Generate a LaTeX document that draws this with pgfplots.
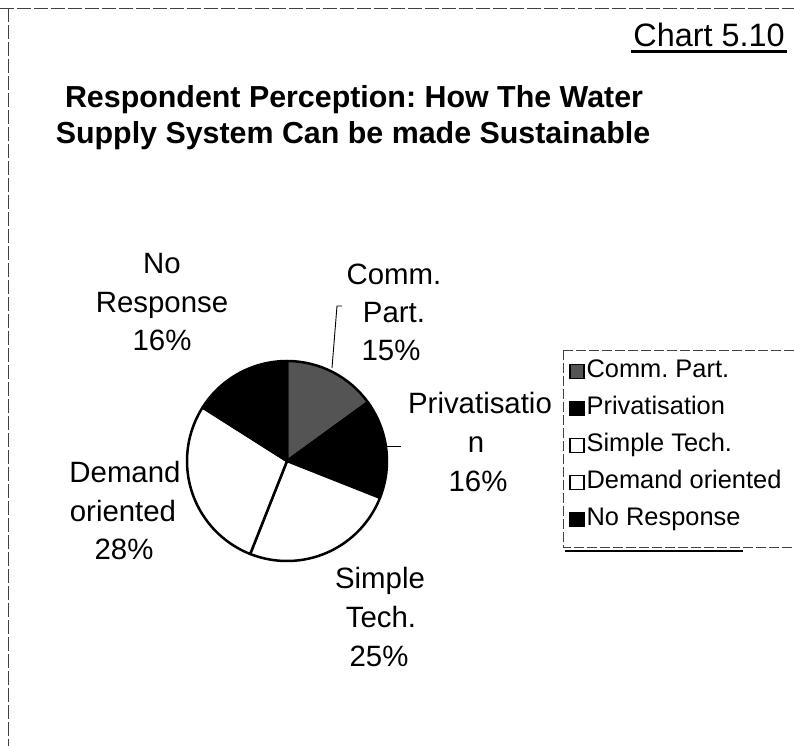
\documentclass[border=0pt]{standalone}
\usepackage{pgfplots}
\pgfplotsset{compat=1.18}
\usepackage{pgfplotstable}
\usepackage{fontspec}
\setmainfont{Liberation Sans}
\definecolor{commgray}{gray}{0.33}

\pgfplotstableread{
idx value
0 15
1 16
2 25
3 28
4 16
}\piedata

\newcommand\lab{\fontsize{29.5}{32}\selectfont}
\newcommand\ttl{\fontsize{30.5}{33}\selectfont\bfseries}
\newcommand\leg{\fontsize{25.5}{28}\selectfont}

\begin{document}%
\frenchspacing%
\begin{tikzpicture}
\pgfplotstablegetelem{0}{value}\of\piedata \let\vA\pgfplotsretval
\pgfplotstablegetelem{1}{value}\of\piedata \let\vB\pgfplotsretval
\pgfplotstablegetelem{2}{value}\of\piedata \let\vC\pgfplotsretval
\pgfplotstablegetelem{3}{value}\of\piedata \let\vD\pgfplotsretval
\pgfplotstablegetelem{4}{value}\of\piedata \let\vE\pgfplotsretval
\pgfmathsetmacro\aA{90}
\pgfmathsetmacro\aB{\aA-3.6*\vA}
\pgfmathsetmacro\aC{\aB-3.6*\vB}
\pgfmathsetmacro\aD{\aC-3.6*\vC}
\pgfmathsetmacro\aE{\aD-3.6*\vD}
\pgfmathsetmacro\aF{\aE-3.6*\vE}
\begin{scope}[x=1bp,y=-1bp]
\path[use as bounding box] (0,0) rectangle (794,746);
% frame
\draw[black!75, line width=0.9bp, dash pattern=on 14bp off 3bp] (0,8) -- (794,8);
\draw[black!75, line width=0.9bp, dash pattern=on 14bp off 3bp] (8,8) -- (8,746);
% chart number
\node[anchor=base, inner sep=0] at (709,46.7) {\fontsize{32.5}{34}\selectfont Chart 5.10};
\draw[line width=2.4bp] (631,51.5) -- (787,51.5);
% title
\node[anchor=base, inner sep=0] at (354,107) {\ttl Respondent Perception: How The Water};
\node[anchor=base, inner sep=0] at (353,143.5) {\ttl Supply System Can be made Sustainable};
% data labels
\node[anchor=base, inner sep=0] at (162,273) {\lab No};
\node[anchor=base, inner sep=0] at (162,312) {\lab Response};
\node[anchor=base, inner sep=0] at (162,350) {\lab 16\%};
\node[anchor=base, inner sep=0] at (394,284) {\lab Comm.};
\node[anchor=base, inner sep=0] at (394,322) {\lab Part.};
\node[anchor=base, inner sep=0] at (391,360) {\lab 15\%};
\node[anchor=base, inner sep=0] at (480,413) {\lab Privatisatio};
\node[anchor=base, inner sep=0] at (476,452) {\lab n};
\node[anchor=base, inner sep=0] at (478,491) {\lab 16\%};
\node[anchor=base, inner sep=0] at (125,482) {\lab Demand};
\node[anchor=base, inner sep=0] at (123,521) {\lab oriented};
\node[anchor=base, inner sep=0] at (124,559) {\lab 28\%};
\node[anchor=base, inner sep=0] at (380,588) {\lab Simple};
\node[anchor=base, inner sep=0] at (381,627) {\lab Tech.};
\node[anchor=base, inner sep=0] at (379,666) {\lab 25\%};
% leader lines
\draw[line width=0.9bp] (342,306) -- (337,306) -- (332,368);
\draw[line width=0.9bp] (384,446) -- (401,446);
% legend frame
\draw[black!75, line width=0.8bp, dash pattern=on 10bp off 3bp] (563,350) rectangle (800,547);
\draw[line width=2.6bp] (565,551) -- (743,551);
\end{scope}
\pgfresetboundingbox
\path[use as bounding box] (0bp,0bp) rectangle (794bp,-746bp);
\begin{axis}[
  at={(287bp,-461bp)}, anchor=center,
  x=100bp, y=100bp, xmin=-1, xmax=1, ymin=-1, ymax=1,
  hide axis, clip=false,
  legend image code/.code={\draw[#1, solid, line width=1.4bp] (0bp,-7bp) rectangle (14bp,7bp);},
  legend style={at={(1.91,1.005)}, anchor=north west, draw=none, fill=none,
    inner xsep=0pt, inner ysep=0pt, row sep=15bp, column sep=2bp, font=\leg,
    nodes={inner sep=0pt, text height=17bp, text depth=5bp}},
  legend cell align=left,
]
\addlegendimage{fill=commgray}
\addlegendentry{Comm. Part.}
\addlegendimage{fill=black}
\addlegendentry{Privatisation}
\addlegendimage{fill=white}
\addlegendentry{Simple Tech.}
\addlegendimage{fill=white}
\addlegendentry{Demand oriented}
\addlegendimage{fill=black}
\addlegendentry{No Response}
\filldraw[fill=commgray, draw=black, line width=2.5bp, line join=round] (0,0) -- ({cos(\aA)},{sin(\aA)}) arc[start angle=\aA, end angle=\aB, radius=100bp] -- cycle;
\filldraw[fill=black, draw=black, line width=2.5bp, line join=round] (0,0) -- ({cos(\aB)},{sin(\aB)}) arc[start angle=\aB, end angle=\aC, radius=100bp] -- cycle;
\filldraw[fill=white, draw=black, line width=2.5bp, line join=round] (0,0) -- ({cos(\aC)},{sin(\aC)}) arc[start angle=\aC, end angle=\aD, radius=100bp] -- cycle;
\filldraw[fill=white, draw=black, line width=2.5bp, line join=round] (0,0) -- ({cos(\aD)},{sin(\aD)}) arc[start angle=\aD, end angle=\aE, radius=100bp] -- cycle;
\filldraw[fill=black, draw=black, line width=2.5bp, line join=round] (0,0) -- ({cos(\aE)},{sin(\aE)}) arc[start angle=\aE, end angle=\aF, radius=100bp] -- cycle;
\end{axis}
\end{tikzpicture}%
\end{document}
